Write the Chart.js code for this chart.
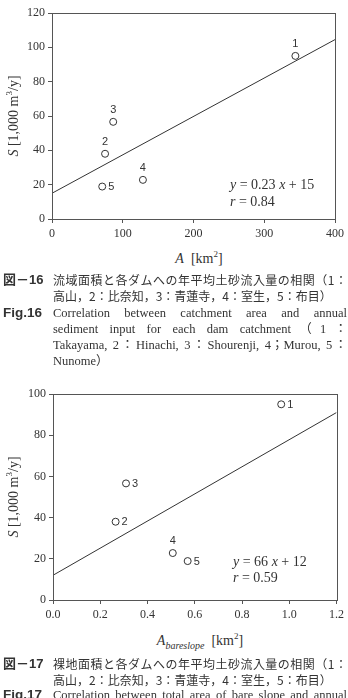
<!DOCTYPE html>
<html>
<head>
<meta charset="utf-8">
<script src="https://cdn.jsdelivr.net/npm/chart.js@4.4.1/dist/chart.umd.min.js"></script>
<style>
    body {
        margin: 0;
        width: 348px;
        height: 698px;
        overflow: hidden;
        background: #fff;
        position: relative;
        color: #333;
    }
    canvas { position: absolute; left: 0; }
    .t {
        position: absolute;
        white-space: nowrap;
        font-family: "Liberation Serif", serif;
        line-height: 16px;
    }
    .ytitle {
        font-size: 14px;
        transform: translate(-50%, -50%) rotate(-90deg);
    }
    .xtitle {
        font-size: 14px;
        transform: translate(-50%, -50%);
    }
    .eq { font-size: 14px; }
    .eq i, .ytitle i, .xtitle i { font-style: italic; }
    sup { font-size: 9px; vertical-align: 6px; line-height: 0; }
    sub { font-size: 10px; vertical-align: -4px; line-height: 0; }
    .lab {
        position: absolute;
        left: 3px;
        font-family: "Liberation Sans", "Noto Sans CJK JP", sans-serif;
        font-weight: bold;
        font-size: 13px;
        line-height: 16px;
        color: #333;
    }
    .ln {
        position: absolute;
        left: 53px;
        width: 294px;
        line-height: 16px;
        white-space: nowrap;
        color: #333;
    }
    .jp { font-family: "Noto Sans CJK JP", sans-serif; font-size: 12px; }
    .en { font-family: "Liberation Serif", "Noto Sans CJK JP", serif; font-size: 12.5px; }
    .full { text-align: justify; text-align-last: justify; }
</style>
</head>
<body>
<canvas id="chartArea" width="348" height="245" style="top:0"></canvas>
<canvas id="chartBare" width="348" height="245" style="top:380px"></canvas>

<!-- chart 1 texts -->
<div class="t ytitle" style="left:14px; top:116px"><i>S</i> [1,000 m<sup>3</sup>/y]</div>
<div class="t xtitle" style="left:199px; top:259px"><i>A</i>&nbsp;&nbsp;[km<sup>2</sup>]</div>
<div class="t eq" style="left:230px; top:177px"><i>y</i> = 0.23 <i>x</i> + 15</div>
<div class="t eq" style="left:230px; top:194px"><i>r</i> = 0.84</div>

<div class="lab" style="top:272px">図－16</div>
<div class="ln jp full" style="top:272px">流域面積と各ダムへの年平均土砂流入量の相関（1：</div>
<div class="ln jp" style="top:288px">高山，2：比奈知，3：青蓮寺，4：室生，5：布目）</div>
<div class="lab" style="top:304.5px; font-size:13.5px">Fig.16</div>
<div class="ln en full" style="top:304.5px">Correlation between catchment area and annual</div>
<div class="ln en full" style="top:320.5px">sediment input for each dam catchment（1：</div>
<div class="ln en full" style="top:336.5px">Takayama, 2：Hinachi, 3：Shourenji, 4；Murou, 5：</div>
<div class="ln en" style="top:352.5px">Nunome）</div>

<!-- chart 2 texts -->
<div class="t ytitle" style="left:14px; top:497px"><i>S</i> [1,000 m<sup>3</sup>/y]</div>
<div class="t xtitle" style="left:200px; top:641px"><i>A<sub>bareslope</sub></i>&nbsp;&nbsp;[km<sup>2</sup>]</div>
<div class="t eq" style="left:233px; top:554px"><i>y</i> = 66 <i>x</i> + 12</div>
<div class="t eq" style="left:233px; top:570px"><i>r</i> = 0.59</div>

<div class="lab" style="top:656px">図－17</div>
<div class="ln jp full" style="top:656px">裸地面積と各ダムへの年平均土砂流入量の相関（1：</div>
<div class="ln jp" style="top:671.5px">高山，2：比奈知，3：青蓮寺，4：室生，5：布目）</div>
<div class="lab" style="top:687px; font-size:13.5px">Fig.17</div>
<div class="ln en full" style="top:687px">Correlation between total area of bare slope and annual</div>

<script>
// dam numbers (1 Takayama, 2 Hinachi, 3 Shourenji, 4 Murou, 5 Nunome)
const damIds = ["1", "2", "3", "4", "5"];
// catchment area [km2]
const catchmentArea = [344, 75, 86.5, 128.5, 71];
// bare slope area [km2]
const bareSlopeArea = [0.966, 0.265, 0.309, 0.507, 0.57];
// annual sediment input [1,000 m3/y]
const sediment = [95, 38, 56.6, 22.8, 18.9];

// regression lines
const fitAreaX = [0, 400];
const fitAreaY = [15, 104.5];
const fitBareX = [0, 1.2];
const fitBareY = [12, 91];

// axis ticks
const areaTicks = [0, 100, 200, 300, 400];
const sedimentTicks1 = [0, 20, 40, 60, 80, 100, 120];
const bareTicks = [0, 0.2, 0.4, 0.6, 0.8, 1.0, 1.2];
const sedimentTicks2 = [0, 20, 40, 60, 80, 100];

const INK = "#333";
const AXIS = "#555";
const TICK_FONT = { family: "'Liberation Serif', serif", size: 12 };

// shrink caption lines that are wider than the column, so they stay on one line
document.querySelectorAll(".ln.full").forEach(el => {
    let size = parseFloat(getComputedStyle(el).fontSize);
    while (el.scrollWidth > el.clientWidth + 0.5 && size > 9) {
        size -= 0.25;
        el.style.fontSize = size + "px";
    }
});

// draws the box round the plot and the dam number next to each circle
const framePlugin = {
    id: "frame",
    afterDatasetsDraw(chart, args, opts) {
        const { ctx, chartArea: a, scales } = chart;
        ctx.save();
        ctx.strokeStyle = AXIS;
        ctx.lineWidth = 1;
        ctx.strokeRect(Math.round(a.left) + 0.5, Math.round(a.top) + 0.5,
            Math.round(a.right - a.left), Math.round(a.bottom - a.top));

        ctx.fillStyle = INK;
        ctx.font = "11px 'Liberation Sans', sans-serif";
        ctx.textBaseline = "middle";
        const ds = chart.data.datasets[0];
        ds.data.forEach((p, i) => {
            const px = scales.x.getPixelForValue(p.x);
            const py = scales.y.getPixelForValue(p.y);
            if (opts.sides[i] === "right") {
                ctx.textAlign = "left";
                ctx.fillText(damIds[i], px + 6, py + 0.5);
            } else {
                ctx.textAlign = "center";
                ctx.fillText(damIds[i], px, py - 12);
            }
        });
        ctx.restore();
    }
};

function makeChart(id, xs, ys, fitX, fitY, xTicks, yTicks, xFmt, axisW, axisH, padTop, sides) {
    return new Chart(document.getElementById(id), {
        type: "scatter",
        data: {
            datasets: [
                {
                    data: xs.map((x, i) => ({ x, y: ys[i] })),
                    pointStyle: "circle",
                    pointRadius: 3.5,
                    pointHoverRadius: 3.5,
                    pointBorderWidth: 1,
                    pointBorderColor: INK,
                    pointBackgroundColor: "#fff",
                    order: 1
                },
                {
                    type: "line",
                    data: fitX.map((x, i) => ({ x, y: fitY[i] })),
                    borderColor: INK,
                    borderWidth: 1,
                    pointRadius: 0,
                    fill: false,
                    order: 2
                }
            ]
        },
        options: {
            responsive: false,
            animation: false,
            devicePixelRatio: 1,
            layout: { autoPadding: false, padding: { top: padTop, right: 10, left: 0, bottom: 0 } },
            plugins: {
                legend: { display: false },
                tooltip: { enabled: false },
                frame: { sides }
            },
            scales: {
                x: {
                    type: "linear",
                    min: xTicks[0],
                    max: xTicks[xTicks.length - 1],
                    afterBuildTicks: s => { s.ticks = xTicks.map(v => ({ value: v })); },
                    afterFit: s => { s.height = axisH; },
                    ticks: { color: INK, font: TICK_FONT, padding: 4, maxRotation: 0, callback: xFmt },
                    grid: { drawOnChartArea: false, drawTicks: true, tickLength: 4, color: AXIS },
                    border: { color: AXIS, width: 1 }
                },
                y: {
                    type: "linear",
                    min: yTicks[0],
                    max: yTicks[yTicks.length - 1],
                    afterBuildTicks: s => { s.ticks = yTicks.map(v => ({ value: v })); },
                    afterFit: s => { s.width = axisW; },
                    ticks: { color: INK, font: TICK_FONT, padding: 3 },
                    grid: { drawOnChartArea: false, drawTicks: true, tickLength: 4, color: AXIS },
                    border: { color: AXIS, width: 1 }
                }
            }
        },
        plugins: [framePlugin]
    });
}

makeChart("chartArea", catchmentArea, sediment, fitAreaX, fitAreaY,
    areaTicks, sedimentTicks1, v => String(v), 52, 26, 13,
    ["top", "top", "top", "top", "right"]);

makeChart("chartBare", bareSlopeArea, sediment, fitBareX, fitBareY,
    bareTicks, sedimentTicks2, v => Number(v).toFixed(1), 53, 25, 14,
    ["right", "right", "right", "top", "right"]);
</script>
</body>
</html>
